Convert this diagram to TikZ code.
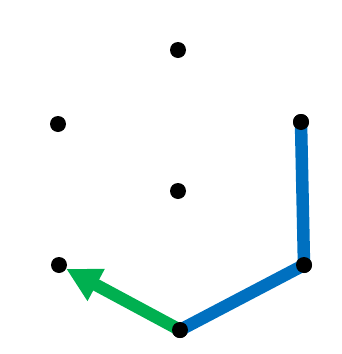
\documentclass[tikz,border=0pt]{standalone}
\usepackage{xcolor}
\definecolor{pathblue}{RGB}{0,112,192}
\definecolor{movegreen}{RGB}{0,176,80}
\usetikzlibrary{arrows.meta}

\begin{document}
\begin{tikzpicture}[
  x=1pt, y=-1pt,
  % --- look of the lattice and the moves ------------------------------
  site/.style={circle, fill=black, inner sep=0pt, minimum size=16pt},
  walk/.style={pathblue, line width=12.5pt, line join=miter},
  hop/.style={movegreen, line width=12.5pt,
              -{Triangle[length=34pt, width=34pt]}},
  % ---------------------------------------------------------------------
]
  \useasboundingbox (0,0) rectangle (341,354);

  % Hexagon sites (top, sides, centre, bottom)
  \node[site] (top) at (178,50)  {};
  \node[site] (ul)  at (58,124)  {};
  \node[site] (ur)  at (301,122) {};
  \node[site] (mid) at (178,191) {};
  \node[site] (ll)  at (59,265)  {};
  \node[site] (lr)  at (304,265) {};
  \node[site] (bot) at (180,330) {};

  % Moves
  \draw[hop] (bot.center) -- (ll);
  \draw[walk] (bot.center) -- (lr.center) -- (ur.center);

  % sites again on top of the moves
  \foreach \s in {ur,lr,bot}
    \fill (\s) circle (8pt);
\end{tikzpicture}
\end{document}
